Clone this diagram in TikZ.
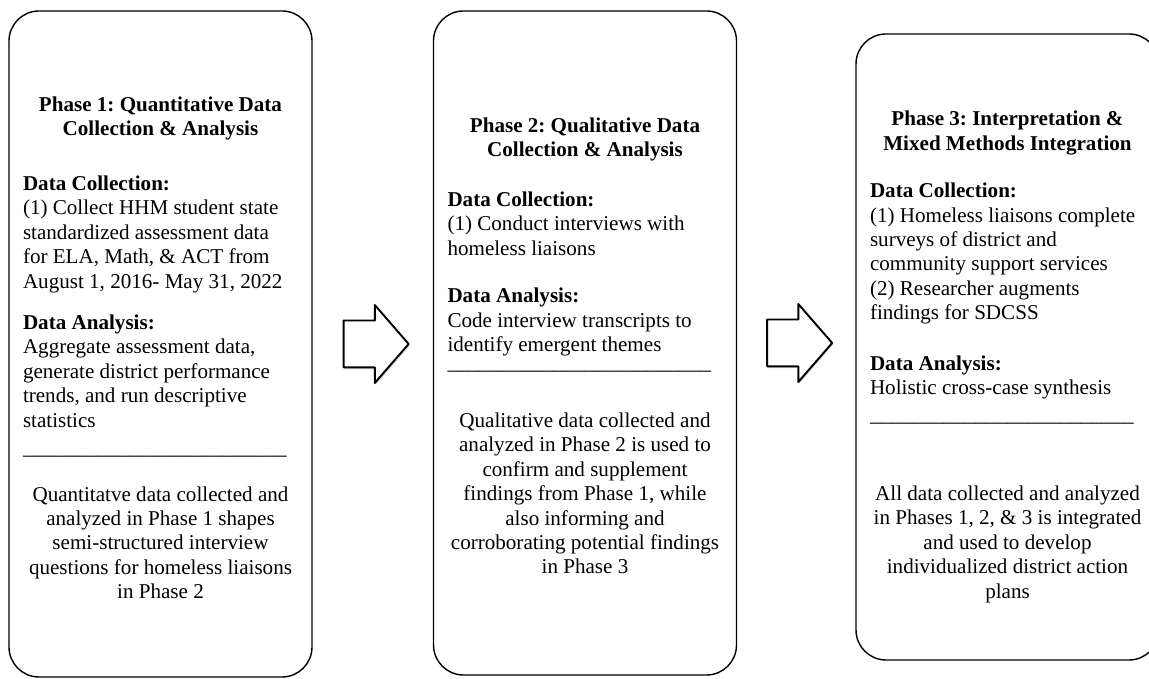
\documentclass[tikz,border=0pt]{standalone}
\usepackage{fontspec}
\setmainfont{Liberation Serif}
\usetikzlibrary{positioning,shapes.arrows,shadows}
\newcommand{\sepline}{\_\_\_\_\_\_\_\_\_\_\_\_\_\_\_\_\_\_\_\_\_\_\_\_\_}

\begin{document}
\begin{tikzpicture}[line join=round, font=\fontsize{12}{13.9}\selectfont\frenchspacing,
	phase/.style={draw, line width=0.8pt, rounded corners=0.6cm, minimum width=6.06cm},
	phasetext/.style={text width=5.5cm, align=flush left, inner sep=0pt},
	blockarrow/.style={single arrow, draw, fill=white, line width=1.1pt, inner xsep=0pt, inner ysep=0.45cm, minimum height=1.30cm, single arrow head extend=0.31cm, single arrow tip angle=98, drop shadow={shadow xshift=0.5pt, shadow yshift=-1pt, opacity=0.35}}]
	\useasboundingbox (0,0) rectangle (22.98,13.58);
	% ba giai doan
	\node[phase, minimum height=13.32cm] (p1) at (3.21,6.70) {};
	\node[phase, minimum height=13.28cm] (p2) at (11.70,6.72) {};
	\node[phase, minimum height=12.52cm] (p3) at (20.15,6.64) {};
	\node[phasetext, yshift=-0.08cm] (t1) at (p1.center) {%
		{\centering\bfseries Phase 1: Quantitative Data\\Collection \& Analysis\par}\vspace{0.6cm}
		\textbf{Data Collection:}\\
		(1) Collect HHM student state\\
		standardized assessment data\\
		for ELA, Math, \& ACT from\\
		August 1, 2016- May 31, 2022\par\vspace{0.34cm}
		\textbf{Data Analysis:}\\
		Aggregate assessment data,\\
		generate district performance\\
		trends, and run descriptive\\
		statistics\par\vspace{0.06cm}
		\sepline\par\vspace{0.44cm}
		{\centering Quantitatve data collected and\\analyzed in Phase 1 shapes\\semi-structured interview\\questions for homeless liaisons\\in Phase 2\par}};
	\node[phasetext, yshift=-0.06cm] (t2) at (p2.center) {%
		{\centering\bfseries Phase 2: Qualitative Data\\Collection \& Analysis\par}\vspace{0.5cm}
		\textbf{Data Collection:}\\
		(1) Conduct interviews with\\
		homeless liaisons\par\vspace{0.46cm}
		\textbf{Data Analysis:}\\
		Code interview transcripts to\\
		identify emergent themes\par\vspace{-0.12cm}
		\sepline\par\vspace{0.66cm}
		{\centering Qualitative data collected and\\analyzed in Phase 2 is used to\\confirm and supplement\\findings from Phase 1, while\\also informing and\\corroborating potential findings\\in Phase 3\par}};
	\node[phasetext, yshift=-0.2cm] (t3) at (p3.center) {%
		{\centering\bfseries Phase 3: Interpretation \&\\Mixed Methods Integration\par}\vspace{0.46cm}
		\textbf{Data Collection:}\\
		(1) Homeless liaisons complete\\
		surveys of district and\\
		community support services\\
		(2) Researcher augments\\
		findings for SDCSS\par\vspace{0.52cm}
		\textbf{Data Analysis:}\\
		Holistic cross-case synthesis\par\vspace{0.04cm}
		\sepline\par\vspace{1.1cm}
		{\centering All data collected and analyzed\\in Phases 1, 2, \& 3 is integrated\\and used to develop\\individualized district action\\plans\par}};
	% mui ten khoi
	\node[blockarrow, right=0.6cm of p1] (a1) {};
	\node[blockarrow, right=0.58cm of p2] (a2) {};
\end{tikzpicture}
\end{document}
